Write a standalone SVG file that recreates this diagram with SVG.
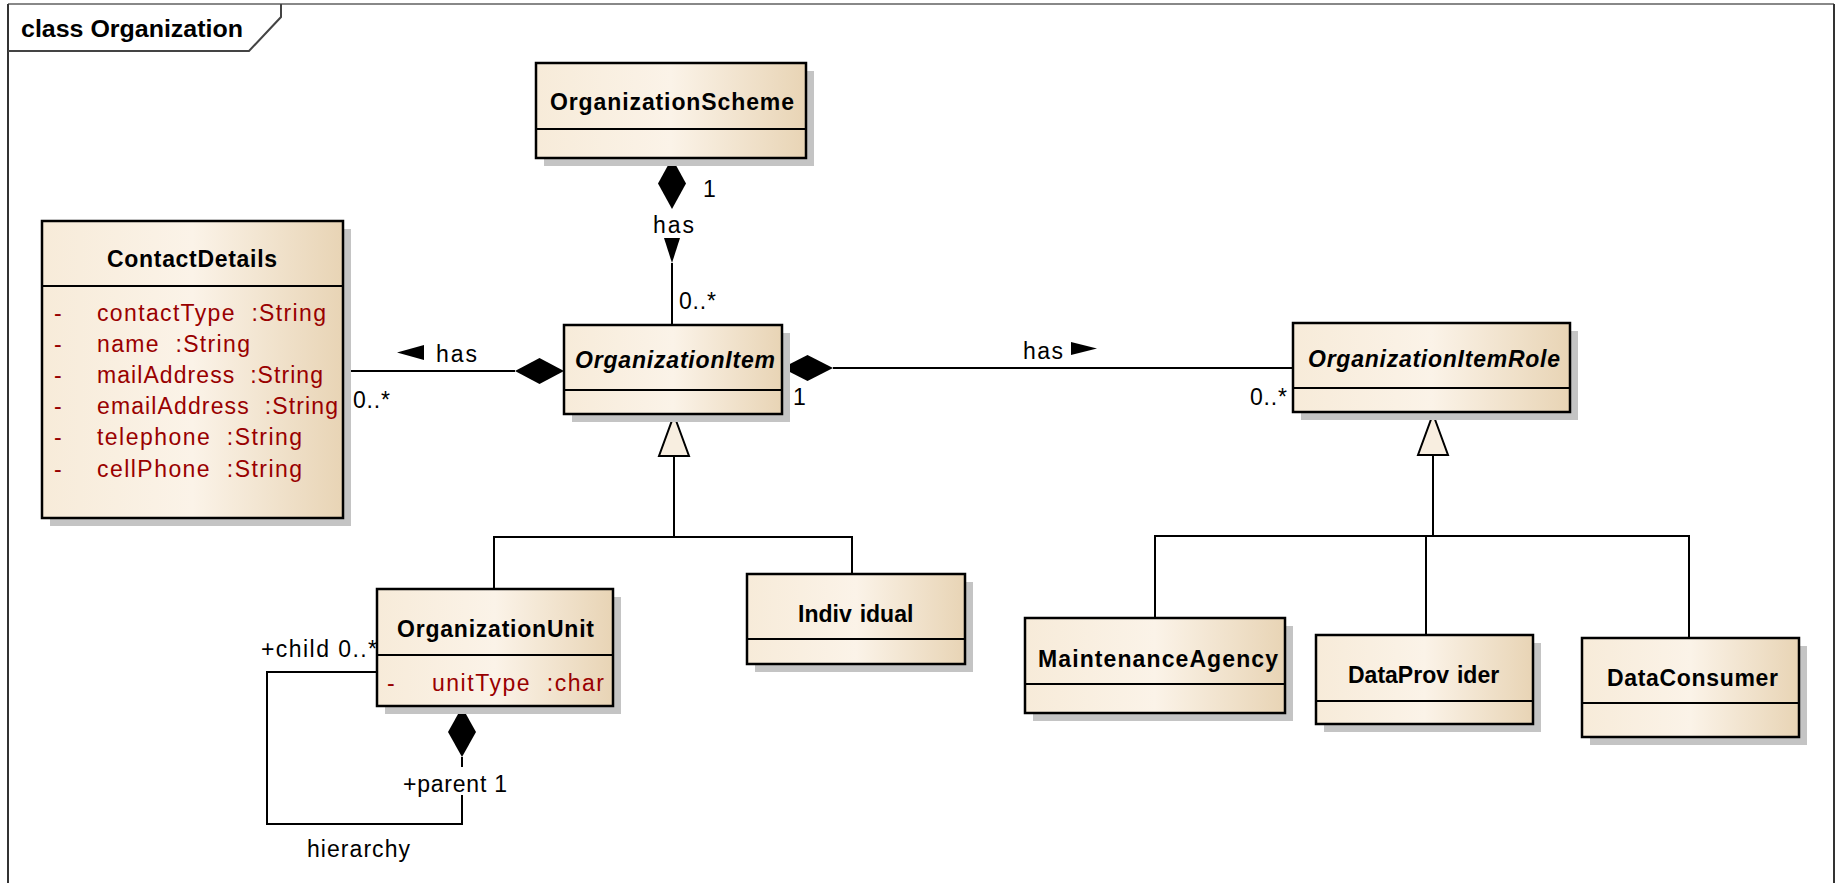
<svg xmlns="http://www.w3.org/2000/svg" width="1841" height="883" viewBox="0 0 1841 883">
<defs>
  <linearGradient id="cls" x1="0" y1="0" x2="1" y2="0">
    <stop offset="0" stop-color="#f7ebd9"/>
    <stop offset="0.5" stop-color="#fbf3e8"/>
    <stop offset="1" stop-color="#e8d4b5"/>
  </linearGradient>
</defs>
<style>
  .shadow{fill:#c4c4c4}
  .body{fill:url(#cls);stroke:#000;stroke-width:2.5}
  .div{stroke:#000;stroke-width:2}
  .name{font-family:"Liberation Sans",Arial,sans-serif;font-size:23px;font-weight:bold;fill:#000}
  .abs{font-style:italic}
  .attr{font-family:"Liberation Sans",Arial,sans-serif;font-size:23px;fill:#990000;white-space:pre}
  .lbl{font-family:"Liberation Sans",Arial,sans-serif;font-size:23px;fill:#000}
  .ln{fill:none;stroke:#000;stroke-width:2}
  .dia{fill:#000}
  .gen{fill:#f8eee0;stroke:#000;stroke-width:2}
</style>
<rect x="0" y="0" width="1841" height="883" fill="#fff"/>

<!-- diagram frame -->
<g id="frame">
  <line x1="8" y1="4" x2="1834" y2="4" stroke="#888" stroke-width="2"/>
  <line x1="8" y1="4" x2="8" y2="883" stroke="#333" stroke-width="2"/>
  <line x1="1834" y1="4" x2="1834" y2="883" stroke="#333" stroke-width="2"/>
  <path d="M8,51 L249,51 L281,17 L281,4" fill="none" stroke="#444" stroke-width="2"/>
  <text class="name" x="21" y="37" textLength="222" lengthAdjust="spacingAndGlyphs">class Organization</text>
</g>

<!-- connectors -->
<g id="connectors">
  <!-- OrganizationScheme has OrganizationItem -->
  <polygon class="dia" points="672,158 686,183.5 672,209 658,183.5"/>
  <polygon class="dia" points="664,238 680,238 672,263"/>
  <line class="ln" x1="672" y1="263" x2="672" y2="325"/>
  <text class="lbl" x="703" y="197">1</text>
  <text class="lbl" x="653" y="233" textLength="41">has</text>
  <text class="lbl" x="679" y="309" textLength="37">0..*</text>

  <!-- OrganizationItem has ContactDetails -->
  <line class="ln" x1="343" y1="371" x2="515" y2="371"/>
  <polygon class="dia" points="564,371 539.5,358 515,371 539.5,384"/>
  <polygon class="dia" points="397,352.5 424,345 424,360"/>
  <text class="lbl" x="436" y="362" textLength="41">has</text>
  <text class="lbl" x="353" y="408" textLength="37">0..*</text>

  <!-- OrganizationItem has OrganizationItemRole -->
  <polygon class="dia" points="782,368 807.5,355 833,368 807.5,381"/>
  <line class="ln" x1="833" y1="368" x2="1293" y2="368"/>
  <polygon class="dia" points="1071,342 1071,355 1097,348.5"/>
  <text class="lbl" x="1023" y="359" textLength="40">has</text>
  <text class="lbl" x="793" y="405">1</text>
  <text class="lbl" x="1250" y="405" textLength="37">0..*</text>

  <!-- OrganizationItem specialisations -->
  <polyline class="ln" points="674,456 674,537"/>
  <polyline class="ln" points="494,589 494,537 852,537 852,574"/>
  <polygon class="gen" points="674,415 689,456 659,456"/>

  <!-- OrganizationItemRole specialisations -->
  <polyline class="ln" points="1433,455 1433,536"/>
  <polyline class="ln" points="1155,618 1155,536 1689,536 1689,638"/>
  <line class="ln" x1="1426" y1="536" x2="1426" y2="635"/>
  <polygon class="gen" points="1433,414 1448,455 1418,455"/>

  <!-- OrganizationUnit hierarchy -->
  <polyline class="ln" points="377,672 267,672 267,824 462,824 462,795"/>
  <line class="ln" x1="462" y1="757" x2="462" y2="767"/>
  <polygon class="dia" points="462,707 476,732 462,757 448,732"/>
  <rect x="259" y="634" width="121" height="27" fill="#fff"/>
  <text class="lbl" x="261" y="657" textLength="116">+child 0..*</text>
  <text class="lbl" x="403" y="792" textLength="104">+parent 1</text>
  <text class="lbl" x="307" y="857" textLength="103">hierarchy</text>
</g>

<!-- classes -->
<g id="OrganizationScheme">
  <rect class="shadow" x="544" y="71" width="270" height="95"/>
  <rect class="body" x="536" y="63" width="270" height="95"/>
  <line class="div" x1="536" y1="129" x2="806" y2="129"/>
  <text class="name" x="550" y="110" textLength="244">OrganizationScheme</text>
</g>

<g id="ContactDetails">
  <rect class="shadow" x="50" y="229" width="301" height="297"/>
  <rect class="body" x="42" y="221" width="301" height="297"/>
  <line class="div" x1="42" y1="286" x2="343" y2="286"/>
  <text class="name" x="107" y="267" textLength="170">ContactDetails</text>
  <g class="attr">
    <text x="54" y="321">-</text><text xml:space="preserve" x="97" y="321" textLength="229">contactType  :String</text>
    <text x="54" y="352">-</text><text xml:space="preserve" x="97" y="352" textLength="153">name  :String</text>
    <text x="54" y="383">-</text><text xml:space="preserve" x="97" y="383" textLength="226">mailAddress  :String</text>
    <text x="54" y="414">-</text><text xml:space="preserve" x="97" y="414" textLength="241">emailAddress  :String</text>
    <text x="54" y="445">-</text><text xml:space="preserve" x="97" y="445" textLength="205">telephone  :String</text>
    <text x="54" y="477">-</text><text xml:space="preserve" x="97" y="477" textLength="205">cellPhone  :String</text>
  </g>
</g>

<g id="OrganizationItem">
  <rect class="shadow" x="572" y="333" width="218" height="89"/>
  <rect class="body" x="564" y="325" width="218" height="89"/>
  <line class="div" x1="564" y1="390" x2="782" y2="390"/>
  <text class="name abs" x="575" y="368" textLength="200">OrganizationItem</text>
</g>

<g id="OrganizationItemRole">
  <rect class="shadow" x="1301" y="331" width="277" height="89"/>
  <rect class="body" x="1293" y="323" width="277" height="89"/>
  <line class="div" x1="1293" y1="388" x2="1570" y2="388"/>
  <text class="name abs" x="1308" y="367" textLength="252">OrganizationItemRole</text>
</g>

<g id="OrganizationUnit">
  <rect class="shadow" x="385" y="597" width="236" height="117"/>
  <rect class="body" x="377" y="589" width="236" height="117"/>
  <line class="div" x1="377" y1="655" x2="613" y2="655"/>
  <text class="name" x="397" y="637" textLength="197">OrganizationUnit</text>
  <g class="attr">
    <text x="387" y="691">-</text><text xml:space="preserve" x="432" y="691" textLength="172">unitType  :char</text>
  </g>
</g>

<g id="Individual">
  <rect class="shadow" x="755" y="582" width="218" height="90"/>
  <rect class="body" x="747" y="574" width="218" height="90"/>
  <line class="div" x1="747" y1="639" x2="965" y2="639"/>
  <text class="name" x="798" y="622">Indiv<tspan dx="8">idual</tspan></text>
</g>

<g id="MaintenanceAgency">
  <rect class="shadow" x="1033" y="626" width="260" height="95"/>
  <rect class="body" x="1025" y="618" width="260" height="95"/>
  <line class="div" x1="1025" y1="684" x2="1285" y2="684"/>
  <text class="name" x="1038" y="667" textLength="240">MaintenanceAgency</text>
</g>

<g id="DataProvider">
  <rect class="shadow" x="1324" y="643" width="217" height="89"/>
  <rect class="body" x="1316" y="635" width="217" height="89"/>
  <line class="div" x1="1316" y1="701" x2="1533" y2="701"/>
  <text class="name" x="1348" y="683">DataProv<tspan dx="8">ider</tspan></text>
</g>

<g id="DataConsumer">
  <rect class="shadow" x="1590" y="646" width="217" height="99"/>
  <rect class="body" x="1582" y="638" width="217" height="99"/>
  <line class="div" x1="1582" y1="703" x2="1799" y2="703"/>
  <text class="name" x="1607" y="686" textLength="171">DataConsumer</text>
</g>
</svg>
